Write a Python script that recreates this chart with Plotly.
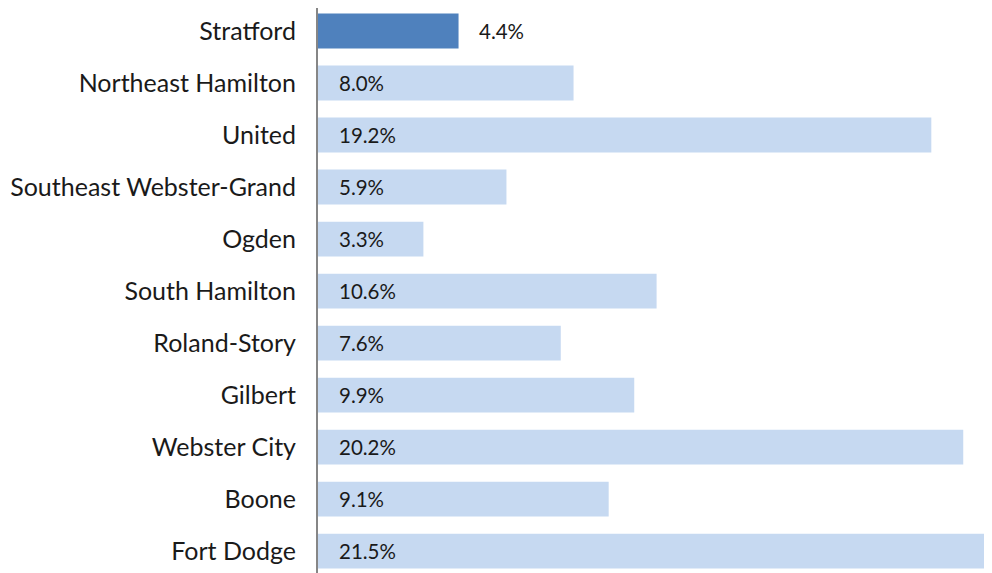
import plotly.graph_objects as go

categories = ["Stratford", "Northeast Hamilton", "United", "Southeast Webster-Grand",
              "Ogden", "South Hamilton", "Roland-Story", "Gilbert", "Webster City",
              "Boone", "Fort Dodge"]
values = [4.4, 8.0, 19.2, 5.9, 3.3, 10.6, 7.6, 9.9, 20.2, 9.1, 21.5]
labels = ["4.4%", "8.0%", "19.2%", "5.9%", "3.3%", "10.6%", "7.6%", "9.9%",
          "20.2%", "9.1%", "21.5%"]
highlight = "Stratford"

pos = list(range(len(categories)))
colors = ["#4F81BD" if c == highlight else "#C6D9F1" for c in categories]

fig = go.Figure()
fig.add_trace(go.Bar(
    x=values, y=pos, orientation="h", width=0.67,
    marker=dict(color=colors, line=dict(width=0)),
    hoverinfo="skip",
))

for p, v, lab, c in zip(pos, values, labels, categories):
    if c == highlight:
        fig.add_annotation(x=v, y=p, text=lab, showarrow=False, xanchor="left",
                           xshift=18, font=dict(family="Lato", size=20.5, color="#1a1a1a"))
    else:
        fig.add_annotation(x=0, y=p, text=lab, showarrow=False, xanchor="left",
                           xshift=19, font=dict(family="Lato", size=20.5, color="#1a1a1a"))

fig.update_layout(
    width=984, height=565,
    margin=dict(l=310, r=0, t=0, b=0),
    paper_bgcolor="white", plot_bgcolor="white",
    showlegend=False,
    xaxis=dict(range=[0, 21.1], visible=False, showgrid=False, zeroline=False,
               automargin=False),
    yaxis=dict(range=[10.42, -0.442], tickvals=pos, ticktext=categories,
               showgrid=False, zeroline=False, showline=True, linecolor="#868686",
               linewidth=2, ticks="", ticklabelstandoff=15, automargin=False,
               tickfont=dict(family="Lato", size=25, color="#1a1a1a")),
)

fig.write_html("out.html")
